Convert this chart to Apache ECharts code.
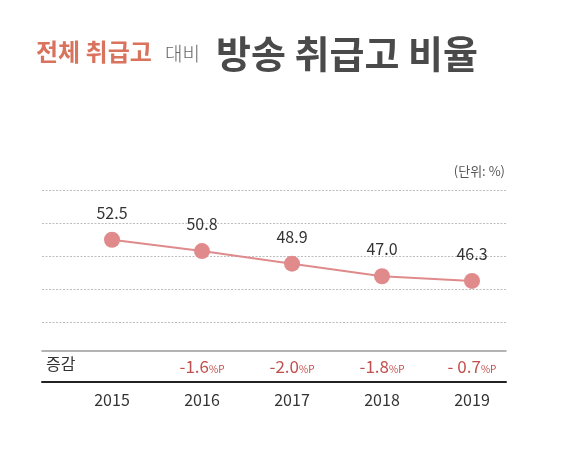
<!DOCTYPE html>
<html><head><meta charset="utf-8">
<script src="https://cdn.jsdelivr.net/npm/echarts@6/dist/echarts.min.js"></script>
<style>html,body{margin:0;padding:0;background:#fff}#c{width:580px;height:453px}</style>
</head><body><div id="c"></div>
<script>
const years = ['2015', '2016', '2017', '2018', '2019'];
const ratio = [52.5, 50.8, 48.9, 47.0, 46.3];
const changes = ['', '-1.6', '-2.0', '-1.8', '- 0.7'];
const changeUnit = '%P';
const yMin = 40, yMax = 60, yStep = 5;

const F = '"Noto Sans CJK KR", "Noto Sans", sans-serif';
const chart = echarts.init(document.getElementById('c'));
chart.setOption({
  backgroundColor: '#fff',
  animation: false,
  grid: [
    { left: 42, right: 74, top: 190, bottom: 130.3 },
    { left: 67, right: 63, top: 190, bottom: 130.3 }
  ],
  xAxis: [
    { gridIndex: 0, type: 'category', data: years, offset: 28,
      axisLine: { show: true, lineStyle: { color: '#9a9a9a', width: 1.5 } },
      axisTick: { show: false }, axisLabel: { show: false }, splitLine: { show: false } },
    { gridIndex: 0, type: 'category', data: years, position: 'bottom', offset: 59.5,
      axisLine: { show: true, lineStyle: { color: '#222', width: 2 } },
      axisTick: { show: false }, axisLabel: { show: false }, splitLine: { show: false } },
    { gridIndex: 1, type: 'category', data: years, position: 'bottom', offset: 77,
      axisLine: { show: false }, axisTick: { show: false },
      axisLabel: { margin: 0, fontFamily: F, fontSize: 16, color: '#333', verticalAlign: 'middle', lineHeight: 16 } },
    { gridIndex: 1, type: 'category', data: changes, position: 'bottom', offset: 43,
      axisLine: { show: false }, axisTick: { show: false },
      axisLabel: { margin: 0, verticalAlign: 'middle', interval: 0,
        formatter: v => v === '' ? '' : '{v|' + v + '}{u|' + changeUnit + '}',
        rich: {
          v: { fontFamily: F, fontSize: 17, color: '#c0504d', verticalAlign: 'bottom', lineHeight: 18 },
          u: { fontFamily: F, fontSize: 10, color: '#c0504d', verticalAlign: 'bottom', lineHeight: 14 }
        } } }
  ],
  yAxis: [
    { gridIndex: 0, type: 'value', min: yMin, max: yMax, interval: yStep,
      axisLine: { show: false }, axisTick: { show: false }, axisLabel: { show: false },
      splitLine: { show: true, lineStyle: { color: '#bdbdbd', type: [2, 1.5], width: 1 } } },
    { gridIndex: 1, type: 'value', min: yMin, max: yMax, interval: yStep, show: false,
      splitLine: { show: false } }
  ],
  series: [{
    type: 'line', xAxisIndex: 2, yAxisIndex: 1, data: ratio,
    symbol: 'circle', symbolSize: 16,
    lineStyle: { color: '#e08a8c', width: 2 },
    itemStyle: { color: '#e08a8c' },
    label: { show: true, position: 'top', distance: 11, fontFamily: F, fontSize: 16, color: '#333',
      formatter: p => p.value.toFixed(1) }
  }],
  graphic: [
    { type: 'text', left: 36, top: 40, style: { text: '전체 취급고', font: 'bold 24px ' + F, fill: '#d9735d' } },
    { type: 'text', left: 165, top: 44, style: { text: '대비', font: '300 19px ' + F, fill: '#666' } },
    { type: 'text', left: 216, top: 35, style: { text: '방송 취급고 비율', font: 'bold 38px ' + F, fill: '#4a4a4a' } },
    { type: 'text', right: 75, top: 165, style: { text: '(단위: %)', font: '13px ' + F, fill: '#555' } },
    { type: 'text', left: 46, top: 356, style: { text: '증감', font: '16px ' + F, fill: '#333' } }
  ]
});
</script></body></html>
